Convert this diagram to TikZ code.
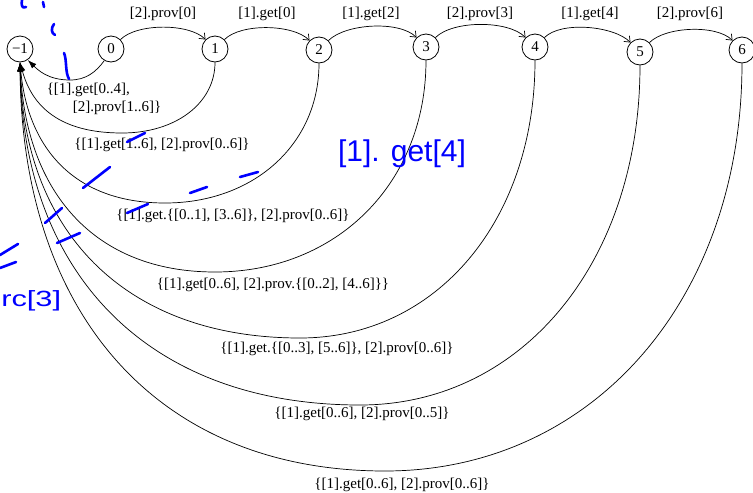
\documentclass[tikz,border=0pt]{standalone}
\usepackage{fontspec}
\setmainfont{Liberation Serif}
\newfontfamily\handfont{Liberation Sans}
\usetikzlibrary{arrows.meta}
\begin{document}
\begin{tikzpicture}[x=1pt,y=-1pt,
  every node/.style={font=\fontsize{15}{18}\selectfont},
  state/.style={draw, circle, minimum size=26pt, inner sep=0pt, line width=0.8pt},
  fwd/.style={line width=0.7pt, -{Straight Barb[length=5pt,width=8pt]}},
  back/.style={line width=0.7pt, -{Latex[length=9pt,width=6pt]}},
  lbl/.style={inner sep=0pt},
  ink/.style={draw=blue, line width=2.6pt, line cap=round, line join=round},
  hand/.style={text=blue, inner sep=0pt}]
\useasboundingbox (0,0) rectangle (753,493);

% states
\node[state] (m1) at (20,49) {−1};
\node[state] (n0) at (111,49) {0};
\node[state] (n1) at (215,49) {1};
\node[state] (n2) at (319,50) {2};
\node[state] (n3) at (426,47) {3};
\node[state] (n4) at (535,47) {4};
\node[state] (n5) at (640,52) {5};
\node[state] (n6) at (742,50) {6};

% forward arcs
\draw[fwd] (n0) to[out=45,in=135,looseness=0.7] (n1);
\draw[fwd] (n1) to[out=45,in=135,looseness=0.7] (n2);
\draw[fwd] (n2) to[out=45,in=135,looseness=0.7] (n3);
\draw[fwd] (n3) to[out=45,in=135,looseness=0.7] (n4);
\draw[fwd] (n4) to[out=45,in=135,looseness=0.7] (n5);
\draw[fwd] (n5) to[out=45,in=135,looseness=0.7] (n6);

\node[lbl] (t0) at (163,14) {[2].prov[0]};
\node[lbl] (t1) at (267,14) {[1].get[0]};
\node[lbl] (t2) at (371,14) {[1].get[2]};
\node[lbl] (t3) at (480,14) {[2].prov[3]};
\node[lbl] (t4) at (590,14) {[1].get[4]};
\node[lbl] (t5) at (690,14) {[2].prov[6]};

% back arcs
\draw[back] (n0.-120) .. controls (96,72) and (86,80) .. (70,80)
            .. controls (48,80) and (38,70) .. (m1.-55);
\draw[back] (n1.south) .. controls (215,103) and (176,133) .. (122,133)
            .. controls (59,133) and (32,106) .. (m1.south);
\draw[back] (n2.south) .. controls (319,144) and (254,203) .. (165,203)
            .. controls (75,203) and (28,149) .. (m1.south);
\draw[back] (n3.south) .. controls (426,183) and (337,272) .. (215,272)
            .. controls (94,272) and (26,192) .. (m1.south);
\draw[back] (n4.south) .. controls (535,221) and (436,338) .. (300,338)
            .. controls (126,338) and (24,233) .. (m1.south);
\draw[back] (n5.south) .. controls (640,262) and (522,405) .. (360,405)
            .. controls (149,405) and (23,275) .. (m1.south);
\draw[back] (n6.south) .. controls (742,300) and (592,471) .. (385,471)
            .. controls (159,471) and (22,316) .. (m1.south);

\node[lbl, align=left] (l0) at (104,99) {\{[1].get[0..4],\\\hspace*{26pt}[2].prov[1..6]\}};
\node[lbl] (l1) at (162,145) {\{[1].get[1..6], [2].prov[0..6]\}};
\node[lbl] (l2) at (233,216) {\{[1].get.\{[0..1], [3..6]\}, [2].prov[0..6]\}};
\node[lbl] (l3) at (273,285) {\{[1].get[0..6], [2].prov.\{[0..2], [4..6]\}\}};
\node[lbl] (l4) at (337,349) {\{[1].get.\{[0..3], [5..6]\}, [2].prov[0..6]\}};
\node[lbl] (l5) at (362,414) {\{[1].get[0..6], [2].prov[0..5]\}};
\node[lbl] (l6) at (402,485) {\{[1].get[0..6], [2].prov[0..6]\}};

% blue handwriting
\draw[ink] (22,0) .. controls (21,5) and (22,9) .. (26,7);
\draw[ink] (43,2) -- (44,7);
\draw[ink] (54,24) .. controls (51,28) and (51,33) .. (55,35);
\draw[ink] (64,53) .. controls (67,60) and (65,72) .. (69,79);
\draw[ink] (127,142) -- (145,133);
\draw[ink] (83,188) -- (110,167);
\draw[ink] (190,193) -- (207,187);
\draw[ink] (240,177) -- (258,172);
\draw[ink] (127,213) -- (148,204);
\draw[ink] (45,223) -- (62,208);
\draw[ink] (57,243) -- (80,233);
\draw[ink] (0,255) -- (18,244);
\draw[ink] (0,268) -- (16,262);
\node[hand, font=\handfont\fontsize{30}{30}\selectfont] (h1) at (402,154) {[1]. get[4]};
\node[hand, font=\handfont\fontsize{22}{22}\selectfont, xscale=1.4, anchor=west] (h2) at (1,301) {rc[3]};
\end{tikzpicture}
\end{document}
